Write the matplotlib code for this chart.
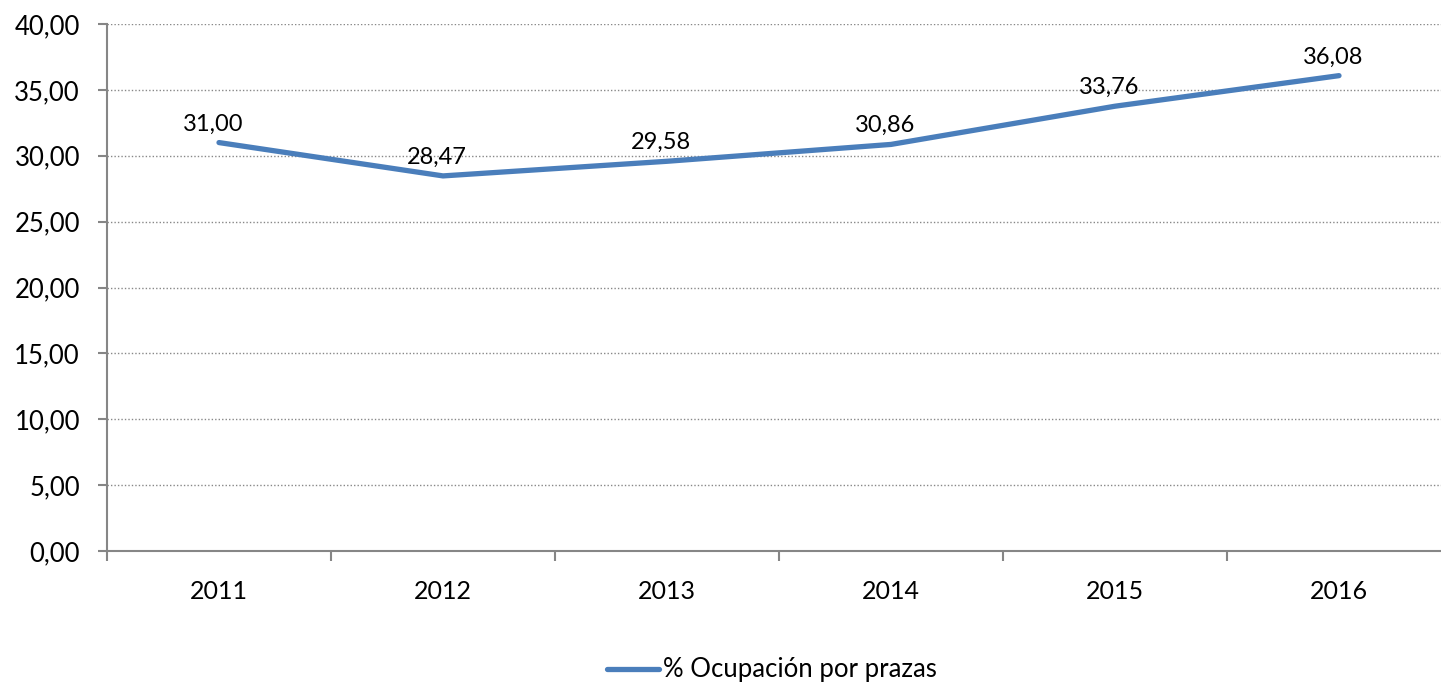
import matplotlib
matplotlib.use("Agg")
import matplotlib.pyplot as plt
from matplotlib.ticker import MultipleLocator, FuncFormatter

years = ["2011", "2012", "2013", "2014", "2015", "2016"]
values = [31.00, 28.47, 29.58, 30.86, 33.76, 36.08]
series_name = "% Ocupación por prazas"

plt.rcParams['font.family'] = ['Lato', 'DejaVu Sans']

W, H = 1441, 687
fig = plt.figure(figsize=(W/100, H/100), dpi=100)
ax = fig.add_axes([107/W, (H-551)/H, 1344/W, (551-24)/H])

x = list(range(len(years)))
line_color = '#4a7ebb'
ln, = ax.plot(x, values, color=line_color, lw=3.8, solid_capstyle='round',
              solid_joinstyle='round', label=series_name, zorder=3)

for xi, v in zip(x, values):
    ax.annotate(f"{v:.2f}".replace('.', ','), (xi, v), xytext=(-4.3, 8.8),
                textcoords='offset points', ha='center', va='baseline',
                fontsize=17, color='black')

ax.set_xlim(-0.5, len(years) - 0.5)
ax.set_ylim(0, 40)
ax.yaxis.set_major_locator(MultipleLocator(5))
ax.yaxis.set_major_formatter(FuncFormatter(lambda v, p: f"{v:.2f}".replace('.', ',')))
ax.set_xticks(x)
ax.set_xticklabels(years)
ax.set_xticks([i - 0.5 for i in range(len(years) + 1)], minor=True)

ax.grid(axis='y', which='major', color='#888888', linestyle=(0, (1, 1.5)), lw=1)
ax.set_axisbelow(True)

for s in ['top', 'right']:
    ax.spines[s].set_visible(False)
for s in ['left', 'bottom']:
    ax.spines[s].set_color('#868686')
    ax.spines[s].set_linewidth(1.5)

ax.tick_params(axis='y', which='major', length=6.5, width=1.5, color='#868686',
               labelsize=18.5, pad=13)
ax.tick_params(axis='x', which='major', length=0, labelsize=18, pad=21)
ax.tick_params(axis='x', which='minor', length=7, width=1.5, color='#868686')

fig.legend(handles=[ln], labels=[series_name], loc='center',
           bbox_to_anchor=(772/W, (H-670)/H), frameon=False, fontsize=18.5,
           handlelength=2.0, handletextpad=0.15)

fig.savefig("out.png", dpi=100)
